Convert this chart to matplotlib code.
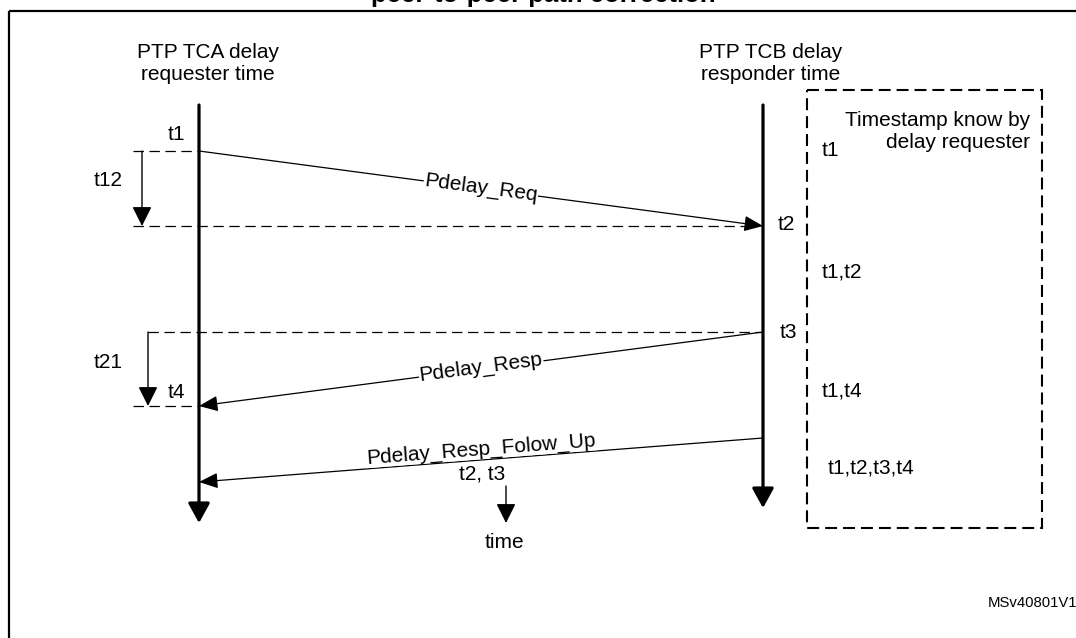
import matplotlib
matplotlib.use("Agg")
import matplotlib.pyplot as plt
from matplotlib.patches import FancyArrowPatch, Rectangle
import numpy as np

plt.rcParams['font.family'] = ['Liberation Sans', 'DejaVu Sans']
plt.rcParams['lines.scale_dashes'] = False

# layout of the sequence diagram (pixel units, y grows downwards)
x_tca, x_tcb = 199, 763          # the two clock timelines
y_start = 105
y_end_tca, y_end_tcb = 523, 508
t1, t2, t3, t4 = 151, 226, 332, 406
fu_send, fu_recv = 438, 482      # follow-up message

titles = ["PTP TCA delay\nrequester time", "PTP TCB delay\nresponder time"]
messages = [
    # label, x from, y from, x to, y to
    ("Pdelay_Req", x_tca, t1, x_tcb, t2),
    ("Pdelay_Resp", x_tcb, t3, x_tca, t4),
    ("Pdelay_Resp_Folow_Up", x_tcb, fu_send, x_tca, fu_recv),
]
label_lift = [1, 2, 11]   # how far each label sits above its line
known_labels = ["t1", "t1,t2", "t1,t4", "t1,t2,t3,t4"]
known_y = [150, 272, 391, 468]
known_x = [822, 822, 822, 828]

FS = 15
thin_dash = (0, (7.5, 4))
box_dash = (0, (8.6, 4.3))

fig = plt.figure(figsize=(10.76, 6.38), dpi=100)
ax = fig.add_axes([0, 0, 1, 1])
ax.set_xlim(0, 1076)
ax.set_ylim(638, 0)
ax.axis('off')

# outer frame (runs off the picture) and title, cut at the top
ax.add_patch(Rectangle((9, 11), 1090, 650, fill=False, lw=1.6, ec='black'))
ax.text(543, 2, "peer-to-peer path correction", fontsize=18.5, fontweight='bold',
        ha='center', va='baseline')

def arrow(x0, y0, x1, y1, lw=0.9, hl=0.58, hw=0.24, z=3):
    ax.add_patch(FancyArrowPatch((x0, y0), (x1, y1),
                                 arrowstyle='-|>,head_length=%s,head_width=%s' % (hl, hw),
                                 mutation_scale=20, lw=lw, color='black',
                                 shrinkA=0, shrinkB=0, zorder=z))

# timelines
arrow(x_tca, y_start, x_tca, y_end_tca, lw=2.3, hl=0.6, hw=0.33, z=4)
arrow(x_tcb, y_start, x_tcb, y_end_tcb, lw=2.3, hl=0.6, hw=0.33, z=4)
ax.text(208, 64, titles[0], fontsize=FS, ha='center', va='center', linespacing=1.2)
ax.text(771, 64, titles[1], fontsize=FS, ha='center', va='center', linespacing=1.2)

# dashed reference lines
ax.plot([133, x_tca], [t1, t1], color='black', lw=0.9, ls=thin_dash)
ax.plot([133, x_tcb - 14], [t2, t2], color='black', lw=0.9, ls=thin_dash)
ax.plot([148, x_tcb], [t3, t3], color='black', lw=0.9, ls=thin_dash)
ax.plot([133, x_tca], [t4, t4], color='black', lw=0.9, ls=thin_dash)

# delay arrows t12 / t21
arrow(142, t1, 142, t2, lw=1.0, hl=0.6, hw=0.3)
arrow(148, t3, 148, t4, lw=1.0, hl=0.6, hw=0.3)

# messages
for (label, x0, y0, x1, y1), lift in zip(messages, label_lift):
    arrow(x0, y0, x1, y1)
    ang = -np.degrees(np.arctan2(y1 - y0, x1 - x0))
    if x1 < x0:
        ang += 180
    xm = 481
    ym = y0 + (y1 - y0) * (xm - x0) / (x1 - x0)
    ax.text(xm, ym - lift, label, fontsize=FS, ha='center', va='center',
            rotation=ang, rotation_mode='anchor',
            bbox=dict(fc='white', ec='none', pad=0.5), zorder=5)
ax.text(482, 474, "t2, t3", fontsize=FS, ha='center', va='center', zorder=6)

# time arrow
arrow(506, 486, 506, 523, lw=1.0, hl=0.6, hw=0.3)
ax.text(504, 543, "time", fontsize=FS, ha='center', va='center')

# event labels
ax.text(176, 135, "t1", fontsize=FS, ha='center', va='center')
ax.text(108, 180, "t12", fontsize=FS, ha='center', va='center')
ax.text(786, 225, "t2", fontsize=FS, ha='center', va='center')
ax.text(788, 332, "t3", fontsize=FS, ha='center', va='center')
ax.text(108, 362, "t21", fontsize=FS, ha='center', va='center')
ax.text(176, 392, "t4", fontsize=FS, ha='center', va='center')

# timestamps known by the requester
ax.add_patch(Rectangle((807, 90), 235, 438, fill=False, lw=1.5, ec='black', ls=box_dash))
ax.text(1030, 131, "Timestamp know by\ndelay requester", fontsize=FS, ha='right',
        va='center', linespacing=1.2)
for lab, xx, yy in zip(known_labels, known_x, known_y):
    ax.text(xx, yy, lab, fontsize=FS, ha='left', va='center')

ax.text(988, 603, "MSv40801V1", fontsize=10.7, ha='left', va='center')

fig.savefig("out.png", dpi=100)
